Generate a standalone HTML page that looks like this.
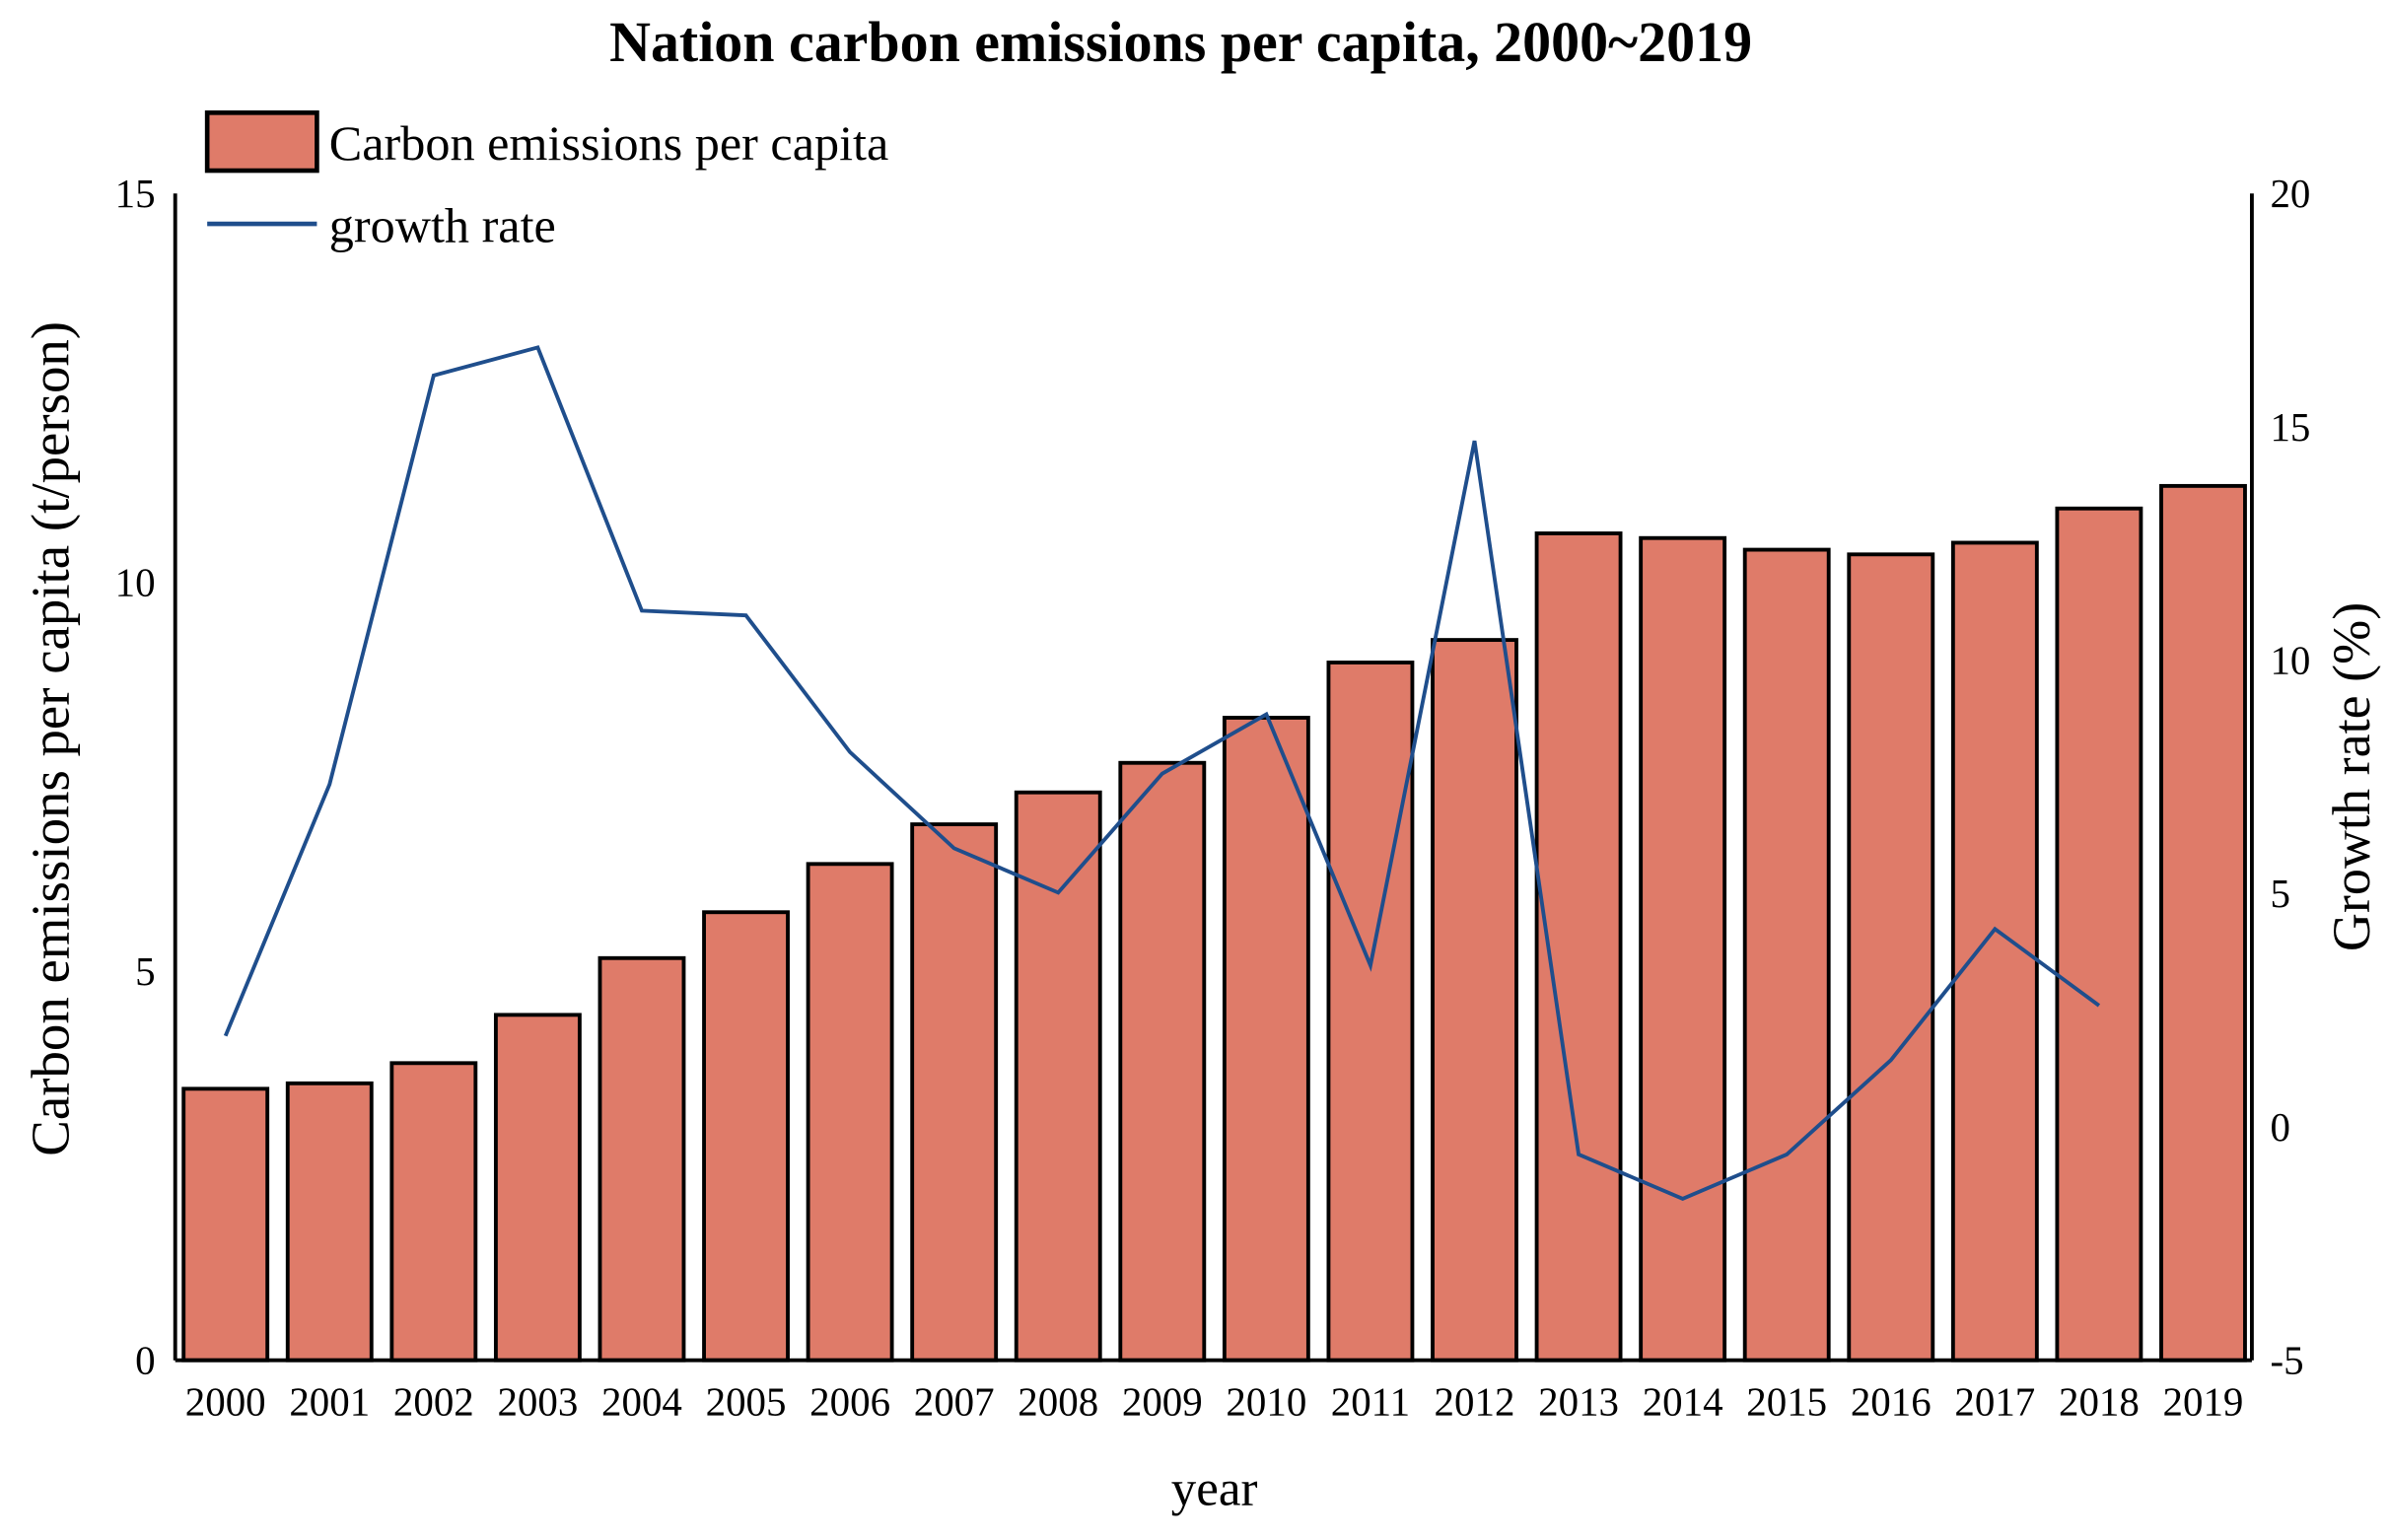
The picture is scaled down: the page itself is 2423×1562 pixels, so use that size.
<!DOCTYPE html>
<html><head><meta charset="utf-8"><style>
html,body{margin:0;padding:0;background:#fff;}
svg{display:block;font-family:"Liberation Serif",serif;}
</style></head><body>
<svg id="chart" width="2423" height="1562" viewBox="0 0 1568 1011" preserveAspectRatio="none" xmlns="http://www.w3.org/2000/svg">
<text x="775" y="40" text-anchor="middle" font-size="37.5" font-weight="bold">Nation carbon emissions per capita, 2000~2019</text>
<g id="bars"></g>
<g id="line"></g>
<g id="axes"></g>
<rect x="136" y="74" width="72" height="38" fill="#df7b69" stroke="#000" stroke-width="3"/>
<text x="216" y="105" font-size="32.5">Carbon emissions per capita</text>
<line x1="136" y1="147" x2="208" y2="147" stroke="#1f4e8c" stroke-width="3"/>
<text x="216" y="159" font-size="32.5">growth rate</text>
<text x="797" y="988" text-anchor="middle" font-size="33">year</text>
<text transform="translate(45,485) rotate(-90)" text-anchor="middle" font-size="35.5">Carbon emissions per capita (t/person)</text>
<text transform="translate(1555,510) rotate(-90)" text-anchor="middle" font-size="35">Growth rate (%)</text>
</svg>
<script>
const years = [2000,2001,2002,2003,2004,2005,2006,2007,2008,2009,2010,2011,2012,2013,2014,2015,2016,2017,2018,2019];
const emissions = [3.49,3.56,3.82,4.44,5.17,5.76,6.38,6.89,7.30,7.68,8.26,8.97,9.26,10.63,10.57,10.42,10.36,10.51,10.95,11.24];
const growth = [1.95,7.34,16.1,16.7,11.06,10.96,8.03,5.97,5.02,7.57,8.84,3.46,14.7,-0.59,-1.54,-0.59,1.43,4.24,2.60];
const leftTicks = [0,5,10,15];
const rightTicks = [-5,0,5,10,15,20];
const NS = "http://www.w3.org/2000/svg";
const x0 = 115, x1 = 1478, yTop = 127, yBot = 893;
function yL(v){ return yBot - (v/15)*(yBot-yTop); }
function yR(v){ return yBot - ((v+5)/25)*(yBot-yTop); }
function xC(i){ return 148 + i*(1446-148)/(years.length-1); }
function mk(tag, attrs, parent){ const e=document.createElementNS(NS,tag); for(const k in attrs) e.setAttribute(k,attrs[k]); parent.appendChild(e); return e; }
const bars=document.getElementById('bars'), line=document.getElementById('line'), axes=document.getElementById('axes');
const bw=55;
emissions.forEach((v,i)=>{
  const r=mk('rect',{x:xC(i)-bw/2,y:yL(v),width:bw,height:yBot-yL(v),fill:'#df7b69',stroke:'#000','stroke-width':2.5},bars);
  
  
});
const pts=growth.map((v,i)=>xC(i)+','+yR(v)).join(' ');
const pl=mk('polyline',{points:pts,fill:'none',stroke:'#1f4e8c','stroke-width':2.5,'stroke-linejoin':'miter'},line);


const al=mk('line',{x1:x0,y1:yTop,x2:x0,y2:yBot,stroke:'#000','stroke-width':2.5},axes);


const ar=mk('line',{x1:x1,y1:yTop,x2:x1,y2:yBot,stroke:'#000','stroke-width':2.5},axes);


const ab=mk('line',{x1:x0,y1:yBot,x2:x1,y2:yBot,stroke:'#000','stroke-width':2.5},axes);


leftTicks.forEach(v=>{
  const t=mk('text',{x:102,y:yL(v)+9,'text-anchor':'end','font-size':26.5},axes); t.textContent=v;
  
  
});
rightTicks.forEach(v=>{
  const t=mk('text',{x:1490,y:yR(v)+9,'text-anchor':'start','font-size':26.5},axes); t.textContent=v;
  
  
});
years.forEach((y,i)=>{
  const t=mk('text',{x:xC(i),y:929,'text-anchor':'middle','font-size':26.5},axes); t.textContent=y;
  
  
});
</script>
</body></html>
